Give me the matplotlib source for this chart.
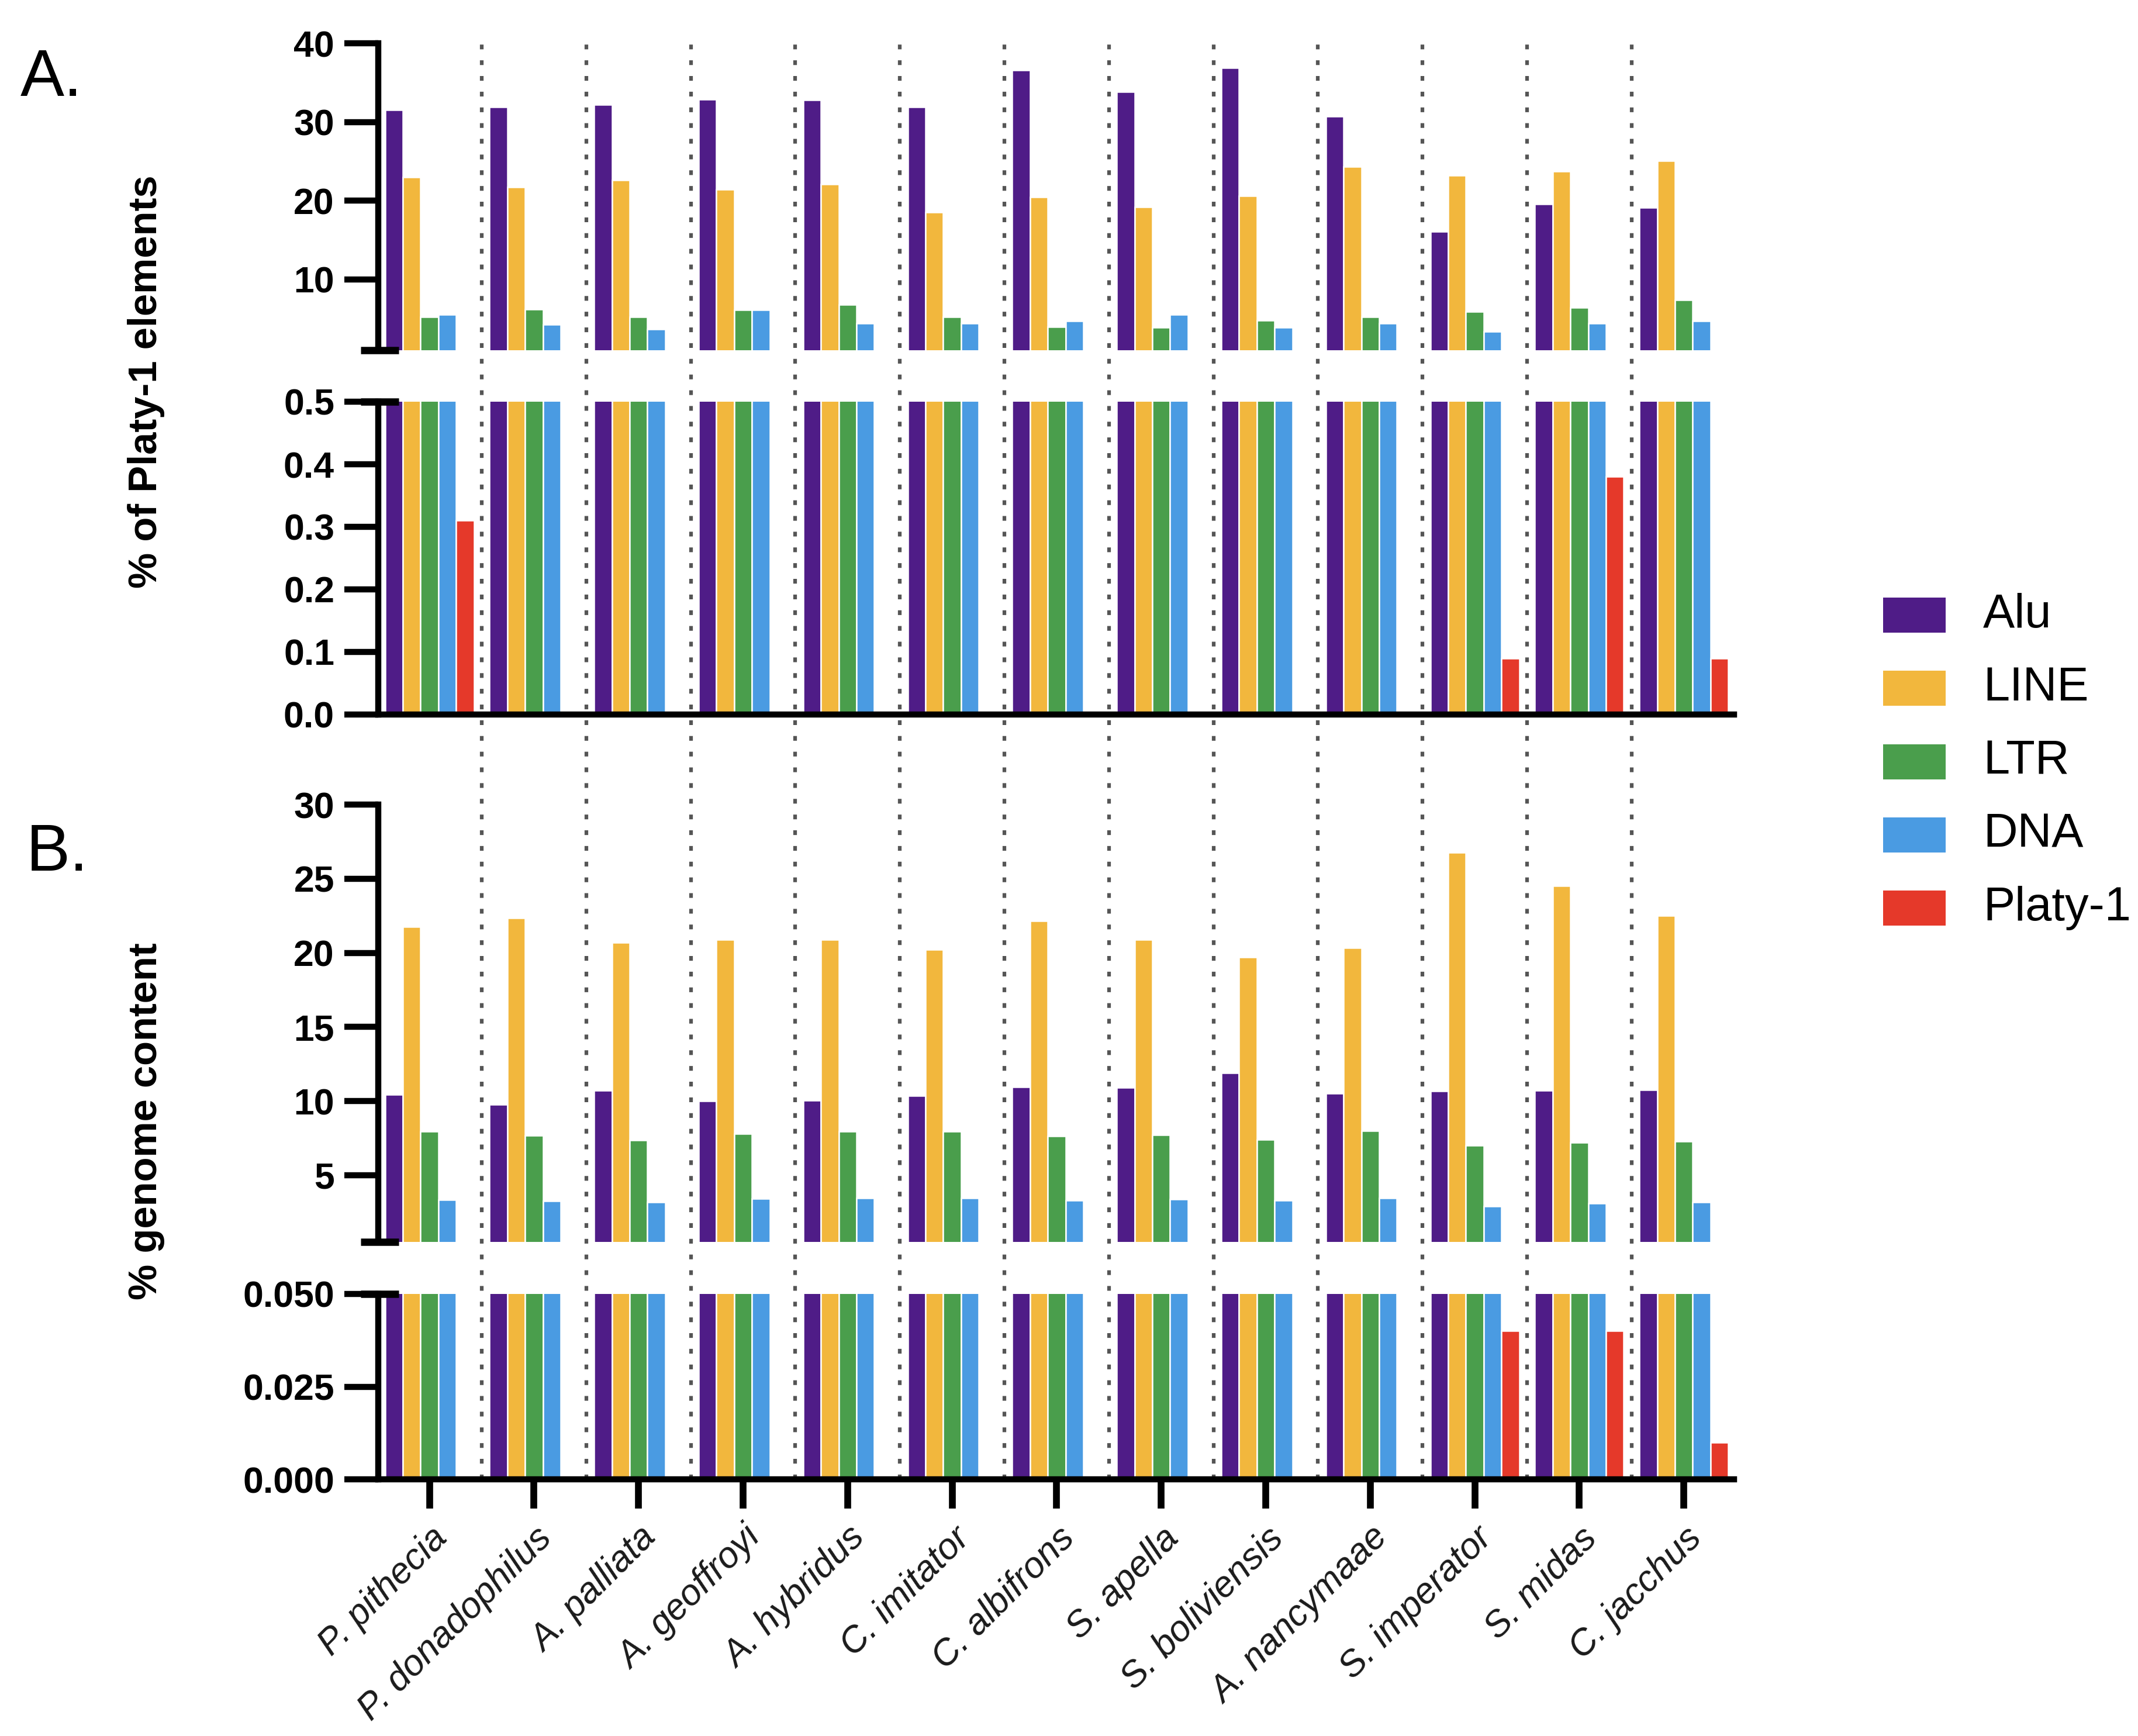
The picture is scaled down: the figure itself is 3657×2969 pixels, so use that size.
import matplotlib
matplotlib.use("Agg")
import matplotlib.pyplot as plt
from matplotlib.patches import Rectangle
import numpy as np

plt.rcParams['font.family'] = ['Liberation Sans', 'DejaVu Sans']

species = ["P. pithecia", "P. donadophilus", "A. palliata", "A. geoffroyi", "A. hybridus",
           "C. imitator", "C. albifrons", "S. apella", "S. boliviensis", "A. nancymaae",
           "S. imperator", "S. midas", "C. jacchus"]
series = ["Alu", "LINE", "LTR", "DNA", "Platy-1"]
colors = ["#4F1C87", "#F2B73D", "#4A9E4C", "#4A9BE2", "#E5392A"]

# Panel A: % of Platy-1 elements
alu_A = [31.5, 31.9, 32.2, 32.9, 32.8, 31.9, 36.6, 33.8, 36.9, 30.7, 16.1, 19.6, 19.1]
line_A = [23.0, 21.7, 22.6, 21.4, 22.1, 18.5, 20.5, 19.2, 20.6, 24.3, 23.2, 23.7, 25.1]
ltr_A = [5.2, 6.2, 5.2, 6.1, 6.8, 5.2, 4.0, 3.9, 4.8, 5.2, 5.9, 6.4, 7.4]
dna_A = [5.5, 4.3, 3.7, 6.1, 4.4, 4.4, 4.7, 5.5, 3.9, 4.4, 3.4, 4.4, 4.7]
platy_A = [0.31, 0, 0, 0, 0, 0, 0, 0, 0, 0, 0.09, 0.38, 0.09]

# Panel B: % genome content
alu_B = [10.45, 9.77, 10.72, 10.02, 10.04, 10.35, 10.97, 10.9, 11.9, 10.5, 10.66, 10.72, 10.76]
line_B = [21.75, 22.35, 20.7, 20.87, 20.9, 20.2, 22.16, 20.87, 19.7, 20.35, 26.75, 24.5, 22.5]
ltr_B = [7.94, 7.67, 7.36, 7.81, 7.94, 7.94, 7.63, 7.73, 7.42, 7.98, 7.0, 7.2, 7.3]
dna_B = [3.34, 3.28, 3.2, 3.4, 3.44, 3.44, 3.3, 3.38, 3.3, 3.44, 2.89, 3.1, 3.18]
platy_B = [0, 0, 0, 0, 0, 0, 0, 0, 0, 0, 0.04, 0.04, 0.01]

A_upper_ticks = [10, 20, 30, 40]
A_lower_ticks = [0.0, 0.1, 0.2, 0.3, 0.4, 0.5]
B_upper_ticks = [5, 10, 15, 20, 25, 30]
B_lower_ticks = [0.0, 0.025, 0.05]

W, H = 3657, 2969
fig = plt.figure(figsize=(W / 300, H / 300), dpi=300)

xl, xr = 647, 2966
XLIM = (-0.49, 12.48)
bw = 0.17
x = np.arange(len(species))
LW = 2.5


def fr(top, bottom):
    return [xl / W, 1 - bottom / H, (xr - xl) / W, (bottom - top) / H]


def draw(ax, data):
    for k, (vals, c) in enumerate(zip(data, colors)):
        ax.bar(x + (k - 2) * bw, vals, width=bw, color=c, edgecolor='white',
               linewidth=0.6, zorder=2)
    ax.set_xlim(*XLIM)
    ax.patch.set_alpha(0)
    ax.set_zorder(1)
    for s in ['top', 'right']:
        ax.spines[s].set_visible(False)
    ax.spines['left'].set_linewidth(LW)
    ax.spines['bottom'].set_linewidth(LW)
    ax.tick_params(axis='y', direction='out', length=14, width=LW, pad=4,
                   labelsize=15)


def break_mark(ax, y):
    ax.plot([-0.013, 0.015], [y, y], transform=ax.transAxes, color='black',
            lw=3, clip_on=False, solid_capstyle='butt', zorder=5)


dataA = [alu_A, line_A, ltr_A, dna_A, platy_A]
dataB = [alu_B, line_B, ltr_B, dna_B, platy_B]

# A upper
axAu = fig.add_axes(fr(74, 599))
draw(axAu, dataA)
axAu.set_ylim(1, 40)
axAu.set_yticks(A_upper_ticks)
axAu.set_yticklabels([str(t) for t in A_upper_ticks], fontweight='bold')
axAu.spines['bottom'].set_visible(False)
axAu.tick_params(axis='x', bottom=False, labelbottom=False)
break_mark(axAu, 0)

# A lower
axAl = fig.add_axes(fr(687, 1222))
draw(axAl, dataA)
axAl.set_ylim(0, 0.5)
axAl.set_yticks(A_lower_ticks)
axAl.set_yticklabels([f"{t:.1f}" for t in A_lower_ticks], fontweight='bold')
axAl.tick_params(axis='x', bottom=False, labelbottom=False)
break_mark(axAl, 1)

# B upper
axBu = fig.add_axes(fr(1376, 2124))
draw(axBu, dataB)
axBu.set_ylim(0.5, 30)
axBu.set_yticks(B_upper_ticks)
axBu.set_yticklabels([str(t) for t in B_upper_ticks], fontweight='bold')
axBu.spines['bottom'].set_visible(False)
axBu.tick_params(axis='x', bottom=False, labelbottom=False)
break_mark(axBu, 0)

# B lower
axBl = fig.add_axes(fr(2213, 2530))
draw(axBl, dataB)
axBl.set_ylim(0, 0.05)
axBl.set_yticks(B_lower_ticks)
axBl.set_yticklabels([f"{t:.3f}" for t in B_lower_ticks], fontweight='bold')
axBl.set_xticks(x)
axBl.set_xticklabels(species, rotation=45, ha='right', rotation_mode='anchor',
                     va='top', fontstyle='italic', fontsize=15, color='#1a1a1a')
axBl.tick_params(axis='x', direction='out', length=12, width=2.8, pad=5)
break_mark(axBl, 1)

# dotted separators spanning both panels
ov = fig.add_axes(fr(68, 2530))
ov.set_xlim(*XLIM)
ov.set_ylim(0, 1)
ov.axis('off')
ov.set_zorder(0)
for b in x[:-1] + 0.5:
    ov.axvline(b, ls=(0, (1.3, 3)), lw=1.5, color='#555555')

# y labels
fig.text(250 / W, 1 - 653 / H, "% of Platy-1 elements", rotation=90, ha='center',
         va='center', fontsize=16.5, fontweight='bold')
fig.text(250 / W, 1 - 1918 / H, "% genome content", rotation=90, ha='center',
         va='center', fontsize=16.5, fontweight='bold')

# panel letters
fig.text(35 / W, 1 - 164 / H, "A.", fontsize=27, va='baseline', ha='left')
fig.text(45 / W, 1 - 1489 / H, "B.", fontsize=27, va='baseline', ha='left')

# legend
for k, (name, c) in enumerate(zip(series, colors)):
    cy = 1052 + k * 125.3
    fig.add_artist(Rectangle((3221 / W, 1 - (cy + 30) / H), 107 / W, 60 / H,
                             transform=fig.transFigure, facecolor=c,
                             edgecolor='none'))
    fig.text(3392 / W, 1 - cy / H, name, fontsize=19.5, va='center', ha='left')

fig.savefig("out.png", dpi=300)
